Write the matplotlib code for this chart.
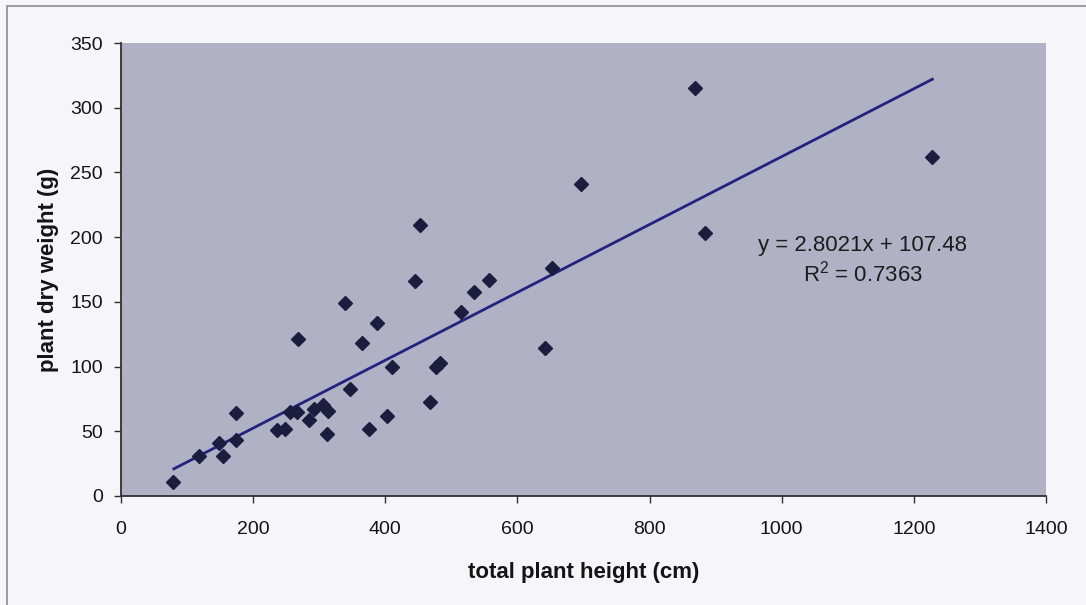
import matplotlib
matplotlib.use('Agg')
import matplotlib.pyplot as plt
from matplotlib.patches import Rectangle

# total plant height (cm) vs plant dry weight (g)
height_cm = [79, 118, 148, 155, 174, 174, 236, 248, 256, 266, 268, 284, 292,
             305, 312, 314, 339, 347, 365, 376, 388, 402, 410, 445, 453, 467,
             477, 483, 514, 534, 557, 642, 652, 696, 869, 884, 1228]
dry_weight_g = [11, 31, 41, 31, 43, 64, 51, 52, 65, 65, 121, 59, 67,
                70, 48, 66, 149, 83, 118, 52, 134, 62, 100, 166, 209, 73,
                100, 103, 142, 158, 167, 114, 176, 241, 315, 203, 262]

# trend line end points as drawn on the chart
trend_x = [80, 1228]
trend_y = [21, 322]

eq_text = 'y = 2.8021x + 107.48'
r2_text = '$\\mathregular{R^2}$ = 0.7363'


def plot_data():
    plt.rcParams['font.family'] = ['Liberation Sans', 'DejaVu Sans']

    fig = plt.figure(figsize=(10.86, 6.05), dpi=100)
    fig.patch.set_facecolor('#f6f6fa')
    # outer chart frame
    fig.patches.append(Rectangle((7 / 1086, -0.1), 1.2, 1.1 - 6 / 605,
                                 transform=fig.transFigure, fill=False,
                                 edgecolor='#8a8a90', linewidth=1.2))

    ax = fig.add_axes([121 / 1086, 1 - 496 / 605, 925 / 1086, 453 / 605])
    ax.set_facecolor('#b1b1c6')

    ax.plot(trend_x, trend_y, color='#23237e', linewidth=2, zorder=2)
    ax.plot(height_cm, dry_weight_g, linestyle='none', marker='D',
            markersize=7, color='#1c1c3e', zorder=3)

    ax.set_xlim(0, 1400)
    ax.set_ylim(0, 350)
    ax.set_xticks(range(0, 1401, 200))
    ax.set_yticks(range(0, 351, 50))
    ax.tick_params(labelsize=14, length=5, width=1, color='#303030',
                   labelcolor='#141414')
    ax.tick_params(axis='y', pad=8)
    ax.tick_params(axis='x', pad=13)

    for side in ['top', 'right']:
        ax.spines[side].set_visible(False)
    for side in ['left', 'bottom']:
        ax.spines[side].set_color('#303030')
        ax.spines[side].set_linewidth(1.3)

    ax.set_xlabel('total plant height (cm)', fontsize=16, fontweight='bold',
                  color='#141414', labelpad=17)
    ax.set_ylabel('plant dry weight (g)', fontsize=16, fontweight='bold',
                  color='#141414', labelpad=8)

    ax.text(0.802, 0.552, eq_text, transform=ax.transAxes, ha='center',
            va='center', fontsize=16, color='#1c1c1c')
    ax.text(0.802, 0.49, r2_text, transform=ax.transAxes, ha='center',
            va='center', fontsize=16, color='#1c1c1c')

    plt.savefig('out.png', dpi=100, facecolor=fig.get_facecolor())


def main():
    plot_data()


if __name__ == '__main__':
    main()
